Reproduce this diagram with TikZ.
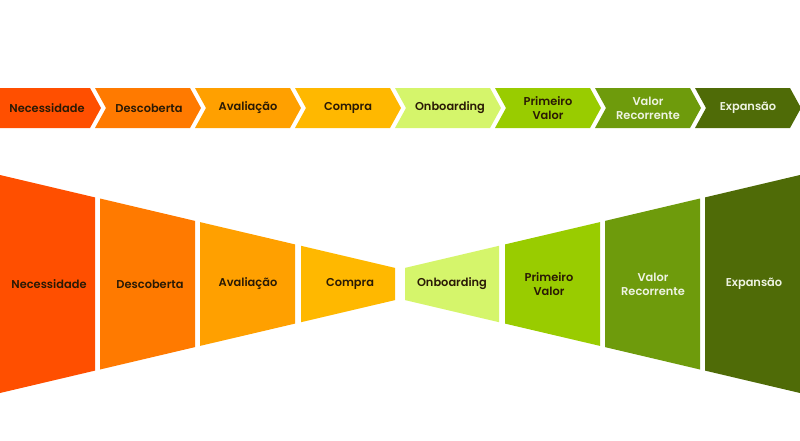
\documentclass[tikz,border=0pt]{standalone}
\usepackage{fontspec}
\setmainfont{Poppins}[BoldFont={Poppins SemiBold}]
\definecolor{cnec}{HTML}{FF4F00}
\definecolor{cdes}{HTML}{FF7A00}
\definecolor{cava}{HTML}{FFA000}
\definecolor{ccom}{HTML}{FFB800}
\definecolor{conb}{HTML}{D5F56B}
\definecolor{cpri}{HTML}{99CC00}
\definecolor{crec}{HTML}{6E9B0C}
\definecolor{cexp}{HTML}{4F6B07}
\definecolor{darktxt}{HTML}{2A1A05}
\definecolor{lighttxt}{HTML}{EEF3E2}
\begin{document}
\begin{tikzpicture}[x=0.025cm, y=-0.025cm,
	lbl/.style={font=\fontsize{8.1}{10}\selectfont\bfseries, align=center, text=darktxt},
	lbllight/.style={lbl, text=lighttxt}]
	\useasboundingbox (0,0) rectangle (800,440);

	\fill[cnec] (0,88) -- (90,88) -- (101,108) -- (90,128) -- (0,128) -- cycle;
	\fill[cdes] (95,88) -- (190,88) -- (201,108) -- (190,128) -- (95,128) -- (106,108) -- cycle;
	\fill[cava] (195,88) -- (290,88) -- (301,108) -- (290,128) -- (195,128) -- (206,108) -- cycle;
	\fill[ccom] (295,88) -- (390,88) -- (401,108) -- (390,128) -- (295,128) -- (306,108) -- cycle;
	\fill[conb] (395,88) -- (490,88) -- (501,108) -- (490,128) -- (395,128) -- (406,108) -- cycle;
	\fill[cpri] (495,88) -- (590,88) -- (601,108) -- (590,128) -- (495,128) -- (506,108) -- cycle;
	\fill[crec] (595,88) -- (690,88) -- (701,108) -- (690,128) -- (595,128) -- (606,108) -- cycle;
	\fill[cexp] (695,88) -- (790,88) -- (801,108) -- (790,128) -- (695,128) -- (706,108) -- cycle;

	\node[lbl] (nec) at (47,108) {Necessidade};
	\node[lbl] (des) at (149,108) {Descoberta};
	\node[lbl] (ava) at (248,108) {Avaliação};
	\node[lbl] (com) at (348,108) {Compra};
	\node[lbl] (onb) at (450,108) {Onboarding};
	\node[lbl] (pri) at (548,108) {Primeiro\\Valor};
	\node[lbllight] (rec) at (648,108) {Valor\\Recorrente};
	\node[lbllight] (exp) at (748,108) {Expansão};

	\fill[cnec] (0,175) -- (95,197.4) -- (95,370.6) -- (0,393) -- cycle;
	\fill[cdes] (100,198.5) -- (195,220.9) -- (195,347.1) -- (100,369.5) -- cycle;
	\fill[cava] (200,222.1) -- (295,244.4) -- (295,323.6) -- (200,345.9) -- cycle;
	\fill[ccom] (301,245.8) -- (395,267.9) -- (395,300.1) -- (301,322.2) -- cycle;
	\fill[conb] (405,267.9) -- (499,245.8) -- (499,322.2) -- (405,300.1) -- cycle;
	\fill[cpri] (505,244.4) -- (600,222.1) -- (600,345.9) -- (505,323.6) -- cycle;
	\fill[crec] (605,220.9) -- (700,198.5) -- (700,369.5) -- (605,347.1) -- cycle;
	\fill[cexp] (705,197.4) -- (800,175) -- (800,393) -- (705,370.6) -- cycle;

	\node[lbl] (NEC) at (49,284) {Necessidade};
	\node[lbl] (DES) at (150,284) {Descoberta};
	\node[lbl] (AVA) at (248,284) {Avaliação};
	\node[lbl] (COM) at (350,284) {Compra};
	\node[lbl] (ONB) at (452,284) {Onboarding};
	\node[lbl] (PRI) at (549,284) {Primeiro\\Valor};
	\node[lbllight] (REC) at (653,284) {Valor\\Recorrente};
	\node[lbllight] (EXP) at (754,284) {Expansão};
\end{tikzpicture}
\end{document}
